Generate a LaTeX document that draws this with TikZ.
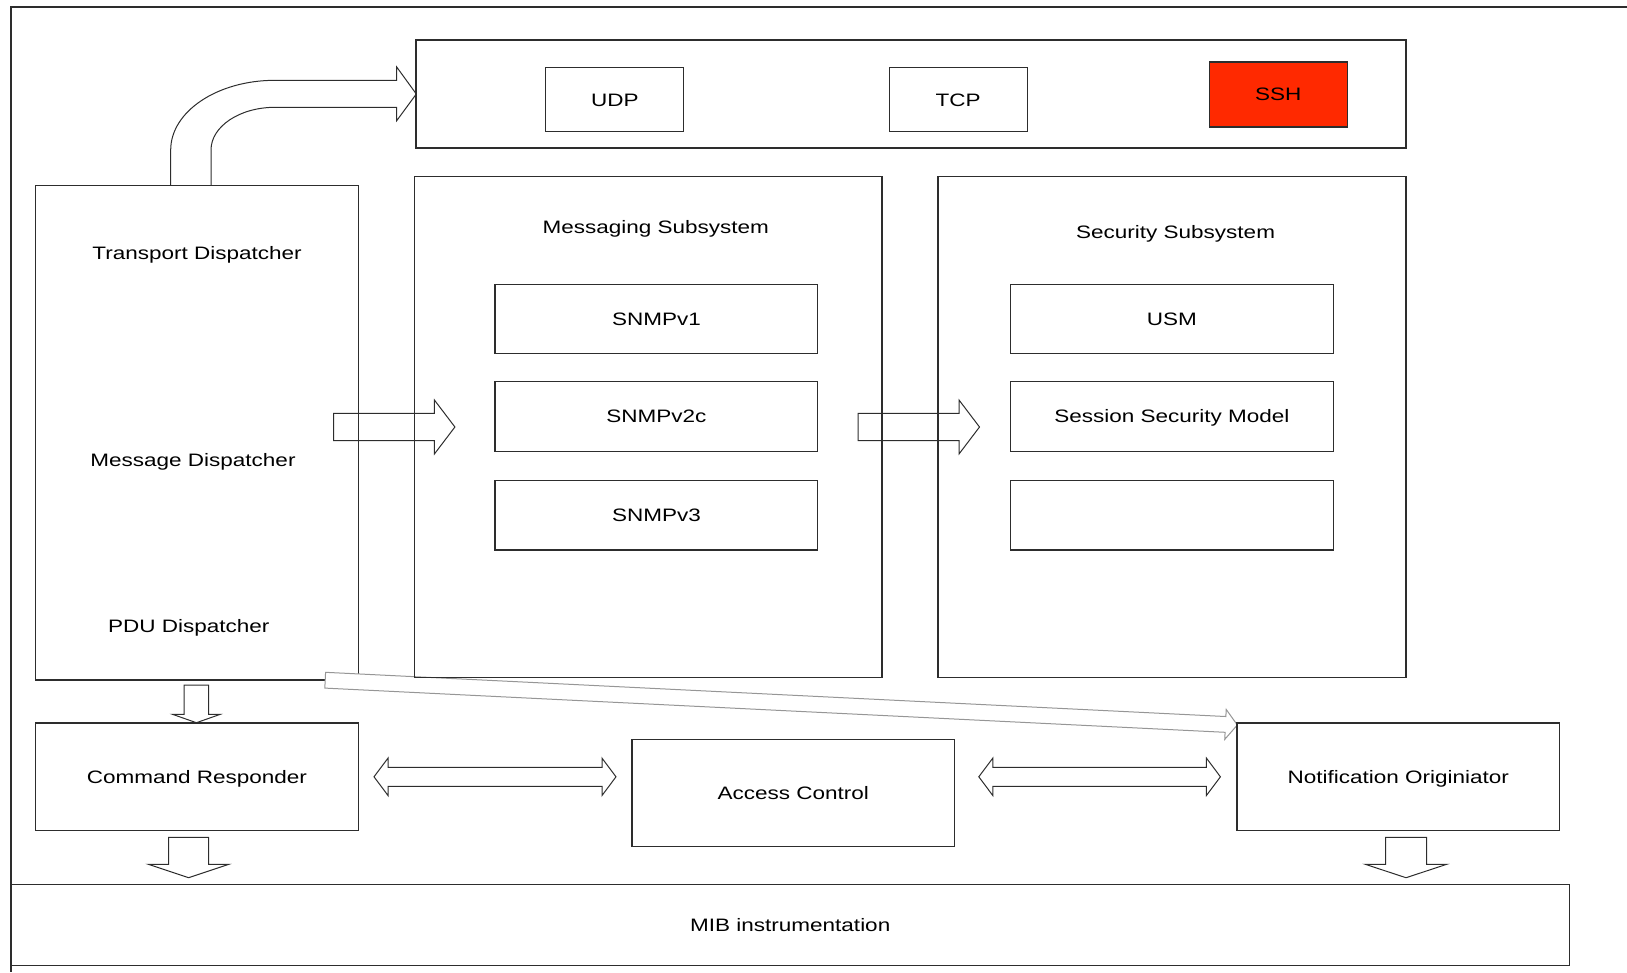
\documentclass[tikz,border=0pt]{standalone}
\usepackage{fontspec}
\setmainfont{Liberation Sans}[FakeStretch=1.25]
\usetikzlibrary{calc}
\definecolor{sshred}{RGB}{255,41,0}
\definecolor{edge}{RGB}{45,45,45}
\definecolor{lightedge}{RGB}{150,150,150}

% single block arrow: [opts]{start}{tip}{shaft half width}{head half width}{head length}
\newcommand\singlearrow[6][]{%
  \draw[barrow,#1] let \p1=($(#3)-(#2)$), \n1={atan2(\y1,\x1)}, \n2={veclen(\x1,\y1)-#6} in
    ($(#2)+({\n1+90}:#4)$) -- ($(#2)+(\n1:\n2)+({\n1+90}:#4)$) -- ($(#2)+(\n1:\n2)+({\n1+90}:#5)$)
    -- (#3) -- ($(#2)+(\n1:\n2)+({\n1-90}:#5)$) -- ($(#2)+(\n1:\n2)+({\n1-90}:#4)$)
    -- ($(#2)+({\n1-90}:#4)$) -- cycle;}
% double block arrow: [opts]{tip A}{tip B}{shaft half width}{head half width}{head length}
\newcommand\doublearrow[6][]{%
  \draw[barrow,#1] let \p1=($(#3)-(#2)$), \n1={atan2(\y1,\x1)}, \n2={veclen(\x1,\y1)-#6} in
    (#2) -- ($(#2)+(\n1:#6)+({\n1+90}:#5)$) -- ($(#2)+(\n1:#6)+({\n1+90}:#4)$)
    -- ($(#2)+(\n1:\n2)+({\n1+90}:#4)$) -- ($(#2)+(\n1:\n2)+({\n1+90}:#5)$) -- (#3)
    -- ($(#2)+(\n1:\n2)+({\n1-90}:#5)$) -- ($(#2)+(\n1:\n2)+({\n1-90}:#4)$)
    -- ($(#2)+(\n1:#6)+({\n1-90}:#4)$) -- ($(#2)+(\n1:#6)+({\n1-90}:#5)$) -- cycle;}

\begin{document}
\begin{tikzpicture}[x=1pt,y=1pt,
  every node/.style={font=\fontsize{18}{22}\selectfont, text height=12.9pt, text depth=0pt, inner sep=0pt},
  box/.style={draw=edge, line width=1.1pt, rectangle},
  label/.style={},
  barrow/.style={draw=edge, line width=1pt, line join=miter},
  frame/.style={draw=edge, line width=1.2pt}]
\useasboundingbox (0,0) rectangle (1627,-972);

% outer frame (only top and left edges visible)
\coordinate (fr1) at (1627,-7);
\coordinate (fr2) at (11,-7);
\coordinate (fr3) at (11,-972);
\draw[frame] (fr1) -- (fr2) -- (fr3);

% transport layer
\node[box, minimum width=990pt, minimum height=108pt] (tp) at (911,-94) {};
\node[box, minimum width=138pt, minimum height=64.4pt] (udp) at (614.8,-99.6) {UDP};
\node[box, minimum width=138pt, minimum height=64.4pt] (tcp) at (958.2,-99.6) {TCP};
\node[box, fill=sshred, minimum width=138pt, minimum height=65pt] (ssh) at (1278.3,-94.5) {SSH};

% dispatcher
\node[box, fill=white, minimum width=322.7pt, minimum height=494.3pt] (disp) at (196.85,-432.85) {};
\node[label] (tdl) at (197,-253.2) {Transport Dispatcher};
\node[label] (mdl) at (193,-459.7) {Message Dispatcher};
\node[label] (pdl) at (188.8,-625.7) {PDU Dispatcher};

% curved arrow from dispatcher to transport box
\coordinate (ca1) at (170.7,-185.7);
\coordinate (ca2) at (211,-185.7);
\coordinate (catip) at (416.3,-94);
\draw[barrow] (ca1) -- ++(0,35.7) arc[start angle=180, end angle=90, x radius=104.3, y radius=69.7]
  -- (396.7,-80.3) -- (396.7,-67) -- (catip) -- (396.7,-120.7) -- (396.7,-107.3) -- (275,-107.3)
  arc[start angle=90, end angle=180, x radius=64, y radius=42.7] -- (ca2);

% diagonal arrow dispatcher -> notification originator
\coordinate (dgs) at (325.2,-680.2);
\coordinate (dge) at (1237.3,-725);
\singlearrow[fill=white, draw=lightedge]{dgs}{dge}{7.9}{15}{11.8}

% messaging subsystem
\node[box, minimum width=467.7pt, minimum height=501.2pt] (msg) at (648.15,-427) {};
\node[label] (msgl) at (655.8,-227.2) {Messaging Subsystem};
\node[box, minimum width=322.8pt, minimum height=69.5pt] (v1) at (656.4,-319.05) {SNMPv1};
\node[box, minimum width=322.8pt, minimum height=69.5pt] (v2) at (656.4,-416.4) {SNMPv2c};
\node[box, minimum width=322.8pt, minimum height=69.5pt] (v3) at (656.4,-515.2) {SNMPv3};

% security subsystem
\node[box, minimum width=468pt, minimum height=501.2pt] (sec) at (1172,-427) {};
\node[label] (secl) at (1175.6,-232.4) {Security Subsystem};
\node[box, minimum width=322.7pt, minimum height=69.5pt] (usm) at (1171.95,-319.05) {USM};
\node[box, minimum width=322.7pt, minimum height=69.5pt] (ssm) at (1171.95,-416.4) {Session Security Model};
\node[box, minimum width=322.7pt, minimum height=69.5pt] (emp) at (1171.95,-515.2) {};

% arrows between subsystems
\coordinate (raS) at (333.5,-427);
\coordinate (raE) at (454.9,-427);
\singlearrow{raS}{raE}{13.7}{27}{20.5}
\coordinate (rbS) at (858,-427);
\coordinate (rbE) at (979.5,-427);
\singlearrow{rbS}{rbE}{13.7}{27}{20.5}

% bottom row
\node[box, minimum width=322.7pt, minimum height=107.6pt] (cr) at (196.85,-776.8) {Command Responder};
\node[box, minimum width=322.7pt, minimum height=107.2pt] (ac) at (793.35,-793.1) {Access Control};
\node[box, minimum width=322.4pt, minimum height=107.6pt] (no) at (1398.2,-776.8) {Notification Originiator};
\node[box, minimum width=1558.5pt, minimum height=81.1pt] (mib) at (790.25,-925.05) {MIB instrumentation};

% dispatcher -> command responder
\coordinate (d1s) at (196.4,-685);
\coordinate (d1e) at (196.4,-722.7);
\singlearrow{d1s}{d1e}{12.2}{23.9}{8.4}

% double arrows
\coordinate (l1) at (374,-776.8);
\coordinate (l2) at (616,-776.8);
\doublearrow{l1}{l2}{9.5}{18.7}{14}
\coordinate (r1) at (978.8,-776.8);
\coordinate (r2) at (1220.4,-776.8);
\doublearrow{r1}{r2}{9.5}{18.7}{14}

% down arrows to MIB
\coordinate (d2s) at (188.6,-837.3);
\coordinate (d2e) at (188.6,-877.7);
\singlearrow{d2s}{d2e}{19.9}{40.2}{13.4}
\coordinate (d3s) at (1406,-837.3);
\coordinate (d3e) at (1406,-877.7);
\singlearrow{d3s}{d3e}{20.5}{40.7}{13.4}
\end{tikzpicture}
\end{document}
